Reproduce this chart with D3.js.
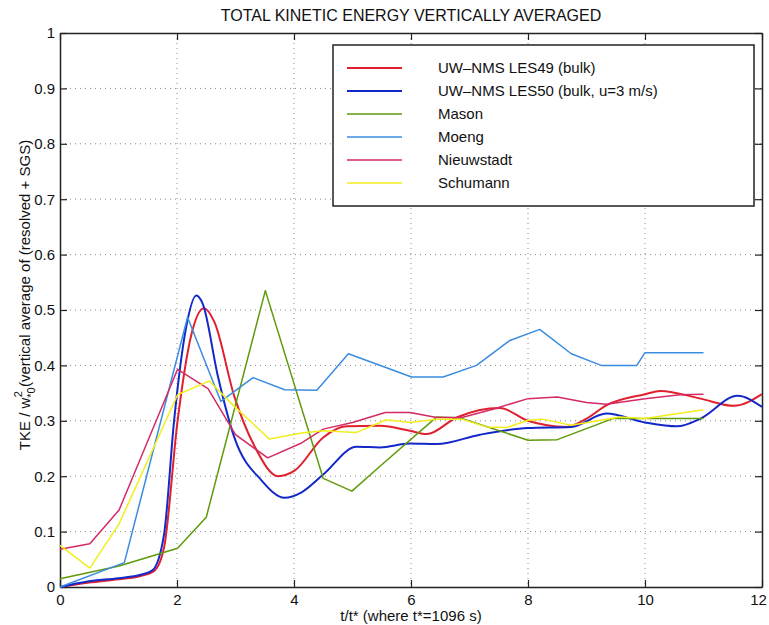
<!DOCTYPE html>
<html>
<head>
<meta charset="utf-8">
<script src="https://cdn.jsdelivr.net/npm/d3@7"></script>
<style>
  body { margin: 0; background: #fff; }
  text { font-family: "Liberation Sans", Arial, sans-serif; fill: #111; }
</style>
</head>
<body>
<svg id="chart" width="769" height="625"></svg>
<script>
// series: [t/t*, TKE]
const les49 = [[0,0],[0.5,0.008],[1.0,0.014],[1.38,0.02],[1.61,0.029],[1.78,0.072],[2.01,0.30],[2.24,0.453],[2.46,0.503],[2.64,0.478],[2.98,0.344],[3.33,0.253],[3.73,0.2],[4.01,0.21],[4.5,0.27],[4.9,0.29],[5.47,0.291],[5.98,0.282],[6.27,0.276],[6.78,0.306],[7.52,0.323],[8.0,0.3],[8.65,0.289],[9.0,0.304],[9.34,0.328],[10.0,0.348],[10.26,0.354],[10.95,0.34],[11.52,0.327],[12.0,0.348]]
const les50 = [[0,0],[0.47,0.01],[1.0,0.016],[1.38,0.022],[1.58,0.03],[1.78,0.096],[1.95,0.30],[2.15,0.465],[2.33,0.526],[2.44,0.511],[2.7,0.38],[2.98,0.27],[3.44,0.193],[3.84,0.161],[4.13,0.171],[4.5,0.203],[5.07,0.253],[5.47,0.252],[5.98,0.259],[6.44,0.258],[7.18,0.275],[8.0,0.287],[8.74,0.289],[9.34,0.313],[10.0,0.297],[10.55,0.29],[10.95,0.304],[11.58,0.345],[12.0,0.325]]
const mason = [[0,0.015],[1.01,0.038],[2.01,0.07],[2.5,0.126],[3.51,0.535],[4.5,0.196],[4.99,0.173],[5.47,0.218],[6.44,0.307],[6.84,0.305],[8.0,0.265],[8.5,0.266],[9.45,0.304],[10.0,0.304],[11.0,0.304]]
const moeng = [[0,0],[1.1,0.044],[2.18,0.487],[2.75,0.335],[3.3,0.378],[3.84,0.356],[4.39,0.355],[4.93,0.421],[6.01,0.379],[6.55,0.379],[7.12,0.4],[7.69,0.445],[8.2,0.465],[8.74,0.421],[9.25,0.4],[9.86,0.4],[10.0,0.423],[11.0,0.423]]
const nieuwstadt = [[0,0.068],[0.51,0.078],[1.01,0.139],[2.01,0.393],[2.53,0.358],[3.0,0.275],[3.55,0.233],[4.13,0.26],[4.5,0.285],[5.0,0.297],[5.56,0.315],[5.98,0.315],[6.44,0.306],[6.87,0.306],[7.4,0.321],[8.0,0.34],[8.5,0.343],[9.0,0.333],[9.34,0.33],[10.0,0.34],[10.6,0.347],[11.0,0.348]]
const schumann = [[0,0.075],[0.51,0.034],[1.01,0.114],[2.01,0.347],[2.55,0.372],[2.98,0.326],[3.58,0.267],[4.13,0.278],[4.5,0.282],[5.07,0.279],[5.58,0.302],[5.98,0.297],[6.44,0.303],[6.87,0.303],[7.29,0.289],[7.64,0.288],[8.0,0.301],[8.25,0.303],[8.74,0.292],[9.57,0.307],[10.0,0.304],[11.0,0.32]]

const names = ['UW\u2013NMS LES49 (bulk)', 'UW\u2013NMS LES50 (bulk, u=3 m/s)', 'Mason', 'Moeng', 'Nieuwstadt', 'Schumann']
const colors = ['#e0202e', '#1428c8', '#5e9a0a', '#3b8ce0', '#d42a66', '#f2ee1c']
const xTicks = [0, 2, 4, 6, 8, 10, 12]
const yTicks = [0, 0.1, 0.2, 0.3, 0.4, 0.5, 0.6, 0.7, 0.8, 0.9, 1]

let series = [les49, les50, mason, moeng, nieuwstadt, schumann].map((d, i) => ({
  name: names[i], color: colors[i], values: d, smooth: i < 2, width: i < 2 ? 2 : 1.5
}))

let svg = d3.select('#chart')
let mLeft = 60, mRight = 762, mTop = 33, mBottom = 587
let x = d3.scaleLinear().domain([0, 12]).range([mLeft, mRight])
let y = d3.scaleLinear().domain([0, 1]).range([mBottom, mTop])

// dotted grid
let grid = svg.append('g')
grid.selectAll('.gx').data(xTicks.slice(1, -1)).join('line')
  .attr('x1', d => x(d)).attr('x2', d => x(d))
  .attr('y1', mTop).attr('y2', mBottom)
  .attr('stroke', '#888').attr('stroke-width', 1).attr('stroke-dasharray', '1,4')
grid.selectAll('.gy').data(yTicks.slice(1, -1)).join('line')
  .attr('y1', d => y(d)).attr('y2', d => y(d))
  .attr('x1', mLeft).attr('x2', mRight)
  .attr('stroke', '#888').attr('stroke-width', 1).attr('stroke-dasharray', '1,4')

// axes with inward ticks on all sides
let fmt = d3.format('~g')
let axes = [
  svg.append('g').attr('transform', `translate(0,${mBottom})`)
    .call(d3.axisBottom(x).tickValues(xTicks).tickFormat(fmt).tickSizeInner(-7).tickSizeOuter(0).tickPadding(7)),
  svg.append('g').attr('transform', `translate(${mLeft},0)`)
    .call(d3.axisLeft(y).tickValues(yTicks).tickFormat(fmt).tickSizeInner(-7).tickSizeOuter(0).tickPadding(5)),
  svg.append('g').attr('transform', `translate(0,${mTop})`)
    .call(d3.axisTop(x).tickValues(xTicks).tickFormat('').tickSizeInner(-7).tickSizeOuter(0)),
  svg.append('g').attr('transform', `translate(${mRight},0)`)
    .call(d3.axisRight(y).tickValues(yTicks).tickFormat('').tickSizeInner(-7).tickSizeOuter(0))
]
axes.forEach(a => {
  a.select('.domain').attr('stroke', '#222').attr('stroke-width', 1.5)
  a.selectAll('.tick line').attr('stroke', '#222').attr('stroke-width', 1.2)
  a.selectAll('.tick text').style('font-size', '15px').attr('fill', '#111')
})
// keep the last x label inside the window
axes[0].selectAll('.tick text').filter(d => d == 12).attr('dx', -4)

// curves
let lines = svg.append('g')
series.forEach(s => {
  let line = d3.line().x(d => x(d[0])).y(d => y(d[1]))
    .curve(s.smooth ? d3.curveMonotoneX : d3.curveLinear)
  lines.append('path')
    .datum(s.values)
    .attr('d', line)
    .attr('fill', 'none')
    .attr('stroke', s.color)
    .attr('stroke-width', s.width)
    .attr('stroke-linejoin', 'round')
})

// legend
let lg = svg.append('g').attr('transform', 'translate(333,45)')
lg.append('rect').attr('width', 421).attr('height', 161)
  .attr('fill', '#fff').attr('stroke', '#222').attr('stroke-width', 1.5)
series.forEach((s, i) => {
  let ry = 23 + i * 23
  lg.append('line').attr('x1', 14).attr('x2', 69).attr('y1', ry).attr('y2', ry)
    .attr('stroke', s.color).attr('stroke-width', s.width)
  lg.append('text').attr('x', 105).attr('y', ry + 5)
    .style('font-size', '15px').text(s.name)
})

// title and labels
svg.append('text').attr('x', (mLeft + mRight) / 2).attr('y', 21)
  .attr('text-anchor', 'middle').style('font-size', '16px')
  .text('TOTAL KINETIC ENERGY VERTICALLY AVERAGED')

svg.append('text').attr('x', (mLeft + mRight) / 2).attr('y', 621)
  .attr('text-anchor', 'middle').style('font-size', '15px')
  .text('t/t* (where t*=1096 s)')

let yl = svg.append('text')
  .attr('transform', 'translate(30,295) rotate(-90)')
  .attr('text-anchor', 'middle').style('font-size', '15px')
yl.append('tspan').text('TKE / w')
yl.append('tspan').attr('dy', 5).style('font-size', '11px').text('*0')
yl.append('tspan').attr('dy', -13).attr('dx', -10).style('font-size', '11px').text('2')
yl.append('tspan').attr('dy', 8).text(' (vertical average of (resolved + SGS)')
</script>
</body>
</html>
